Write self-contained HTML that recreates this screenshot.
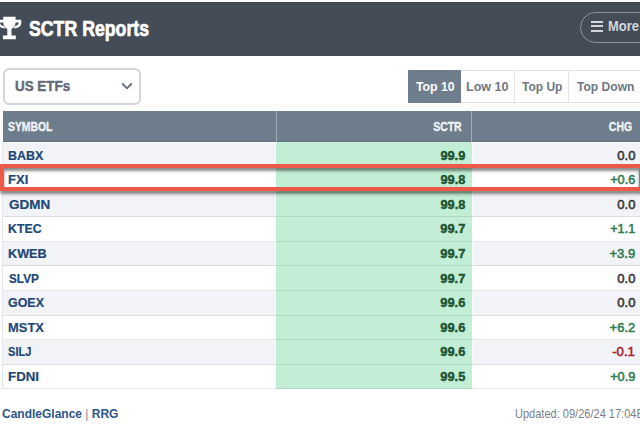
<!DOCTYPE html>
<html><head><meta charset="utf-8"><style>
*{margin:0;padding:0;box-sizing:border-box}
html,body{width:640px;height:426px;overflow:hidden;background:#fff;font-family:"Liberation Sans",sans-serif}
.abs,.tx,.b{position:absolute}
.tx{white-space:nowrap}
.row{position:absolute;left:3px;width:640px;} .ln{position:absolute;left:3px;width:640px;height:1px;background:rgba(40,50,70,.11)}
</style></head><body>
<div class="b" style="left:0;top:2px;width:640px;height:54px;background:#444c57;border-top:1px solid #3b424b"></div>
<svg class="abs" style="left:0;top:0" width="30" height="45">
<path fill="#fff" d="M3.2 16.8H15.6V22.5C15.6 25.8 13.6 28 11.5 29V35.6H15.8V39.2H2.9V35.6H7.3V29C5.2 28 3.2 25.8 3.2 22.5Z"/>
<path fill="#fff" d="M15 19.8H21.3V22.8C21.3 26 18.5 28.2 13.8 28.6L14.6 26.2C17 25.8 18.7 24.6 18.7 22.8V22.6H15Z"/>
<path fill="#fff" d="M3.8 19.8H-2.5V22.8C-2.5 26 0.3 28.2 5 28.6L4.2 26.2C1.8 25.8 0.1 24.6 0.1 22.8V22.6H3.8Z"/>
</svg>
<div class="tx" style="left:28.59px;transform-origin:0 0;top:18.00px;font-size:21.66px;line-height:21.66px;font-weight:700;color:#ffffff;-webkit-text-stroke:0.7px #ffffff;transform:scaleX(0.8178);">SCTR Reports</div>
<div class="b" style="left:579.5px;top:11.5px;width:90px;height:31px;border:1.4px solid #8c939b;border-radius:16px"></div>
<div class="b" style="left:591px;top:21.1px;width:11.7px;height:2px;background:#d3d7db"></div>
<div class="b" style="left:591px;top:25.3px;width:11.7px;height:2px;background:#d3d7db"></div>
<div class="b" style="left:591px;top:29.9px;width:11.7px;height:2px;background:#d3d7db"></div>
<div class="tx" style="left:607.61px;transform-origin:0 0;top:20.00px;font-size:13.95px;line-height:13.95px;font-weight:700;color:#d3d7db;transform:scaleX(0.9300);">More</div>

<div class="b" style="left:3px;top:67.5px;width:138px;height:37px;border:2px solid #d2d6da;border-radius:6px"></div>
<div class="tx" style="left:14.82px;transform-origin:0 0;top:79.00px;font-size:14.75px;line-height:14.75px;font-weight:700;color:#636c77;-webkit-text-stroke:0.45px #636c77;transform:scaleX(0.9087);">US ETFs</div>
<svg class="abs" style="left:121px;top:82px" width="12" height="8" viewBox="0 0 12 8"><path d="M1.2 1.5l4.8 4.8 4.8-4.8" fill="none" stroke="#636c77" stroke-width="1.8"/></svg>

<div class="b" style="left:408px;top:70px;width:53px;height:33px;background:#6e7e8c"></div>
<div class="b" style="left:461px;top:70px;width:200px;height:33px;border:1px solid #e2e5e8;border-left:none"></div>
<div class="b" style="left:514px;top:70px;width:1px;height:33px;background:#e2e5e8"></div>
<div class="b" style="left:568px;top:70px;width:1px;height:33px;background:#e2e5e8"></div>
<div class="tx" style="left:415.58px;transform-origin:0 0;top:80.00px;font-size:13.66px;line-height:13.66px;font-weight:700;color:#ffffff;transform:scaleX(0.9004);">Top 10</div>
<div class="tx" style="left:466.35px;transform-origin:0 0;top:80.00px;font-size:13.66px;line-height:13.66px;font-weight:700;color:#6f7780;transform:scaleX(0.9202);">Low 10</div>
<div class="tx" style="left:521.94px;transform-origin:0 0;top:80.00px;font-size:13.66px;line-height:13.66px;font-weight:700;color:#6f7780;transform:scaleX(0.8786);">Top Up</div>
<div class="tx" style="left:576.62px;transform-origin:0 0;top:80.00px;font-size:13.66px;line-height:13.66px;font-weight:700;color:#6f7780;transform:scaleX(0.8832);">Top Down</div>

<div class="b" style="left:3px;top:111px;width:640px;height:31px;background:#6e7d8b;border-bottom:1px solid #66747f"></div>
<div class="row" style="top:143px;height:25px;background:#f2f3f6"></div><div class="row" style="top:168px;height:25px;background:#ffffff"></div><div class="row" style="top:193px;height:24px;background:#f2f3f6"></div><div class="row" style="top:217px;height:25px;background:#ffffff"></div><div class="row" style="top:242px;height:24px;background:#f2f3f6"></div><div class="row" style="top:266px;height:25px;background:#ffffff"></div><div class="row" style="top:291px;height:25px;background:#f2f3f6"></div><div class="row" style="top:316px;height:24px;background:#ffffff"></div><div class="row" style="top:340px;height:25px;background:#f2f3f6"></div><div class="row" style="top:365px;height:24px;background:#ffffff"></div>
<div class="b" style="left:276px;top:142px;width:196px;height:247px;background:#c2eed5"></div>
<div class="b" style="left:275px;top:142px;width:1px;height:247px;background:#fff"></div>
<div class="b" style="left:472px;top:142px;width:1px;height:247px;background:#fff"></div>
<div class="b" style="left:276px;top:111px;width:1px;height:31px;background:#9eabb6"></div>
<div class="b" style="left:471px;top:111px;width:1px;height:31px;background:#9eabb6"></div>
<div class="ln" style="top:167px"></div><div class="ln" style="top:192px"></div><div class="ln" style="top:216px"></div><div class="ln" style="top:241px"></div><div class="ln" style="top:265px"></div><div class="ln" style="top:290px"></div><div class="ln" style="top:315px"></div><div class="ln" style="top:339px"></div><div class="ln" style="top:364px"></div><div class="ln" style="top:388px"></div>
<div class="b" style="left:2px;top:142px;width:1px;height:247px;background:#e4e6e9"></div>
<div class="tx" style="left:7.70px;transform-origin:0 0;top:120.00px;font-size:13.08px;line-height:13.08px;font-weight:700;color:#f0f2f4;-webkit-text-stroke:0.4px #f0f2f4;transform:scaleX(0.7933);">SYMBOL</div>
<div class="tx" style="right:178.20px;transform-origin:100% 0;top:120.00px;font-size:13.08px;line-height:13.08px;font-weight:700;color:#f0f2f4;-webkit-text-stroke:0.4px #f0f2f4;transform:scaleX(0.7984);">SCTR</div>
<div class="tx" style="right:8.07px;transform-origin:100% 0;top:120.00px;font-size:13.08px;line-height:13.08px;font-weight:700;color:#f0f2f4;-webkit-text-stroke:0.4px #f0f2f4;transform:scaleX(0.7980);">CHG</div>
<div class="tx" style="left:8.00px;transform-origin:0 0;top:148.50px;font-size:13.37px;line-height:13.37px;font-weight:700;color:#1e4775;-webkit-text-stroke:0.2px #1e4775;transform:scaleX(0.9292);">BABX</div><div class="tx" style="right:174.49px;transform-origin:100% 0;top:148.50px;font-size:13.01px;line-height:13.01px;font-weight:700;color:#1c5433;-webkit-text-stroke:0.45px #1c5433;transform:scaleX(0.9850);">99.9</div><div class="tx" style="right:4.75px;transform-origin:100% 0;top:148.50px;font-size:13.30px;line-height:13.30px;font-weight:400;color:#333333;-webkit-text-stroke:0.55px #333333;transform:scaleX(0.9818);">0.0</div><div class="tx" style="left:8.48px;transform-origin:0 0;top:172.50px;font-size:13.37px;line-height:13.37px;font-weight:700;color:#1e4775;-webkit-text-stroke:0.2px #1e4775;transform:scaleX(0.9746);">FXI</div><div class="tx" style="right:175.13px;transform-origin:100% 0;top:172.50px;font-size:13.01px;line-height:13.01px;font-weight:700;color:#1c5433;-webkit-text-stroke:0.45px #1c5433;transform:scaleX(0.9839);">99.8</div><div class="tx" style="right:4.95px;transform-origin:100% 0;top:172.50px;font-size:13.30px;line-height:13.30px;font-weight:400;color:#2e7b50;-webkit-text-stroke:0.55px #2e7b50;transform:scaleX(0.9554);">+0.6</div><div class="tx" style="left:8.59px;transform-origin:0 0;top:197.50px;font-size:13.37px;line-height:13.37px;font-weight:700;color:#1e4775;-webkit-text-stroke:0.2px #1e4775;transform:scaleX(1.0068);">GDMN</div><div class="tx" style="right:175.13px;transform-origin:100% 0;top:197.50px;font-size:13.01px;line-height:13.01px;font-weight:700;color:#1c5433;-webkit-text-stroke:0.45px #1c5433;transform:scaleX(0.9839);">99.8</div><div class="tx" style="right:4.75px;transform-origin:100% 0;top:197.50px;font-size:13.30px;line-height:13.30px;font-weight:400;color:#333333;-webkit-text-stroke:0.55px #333333;transform:scaleX(0.9818);">0.0</div><div class="tx" style="left:8.12px;transform-origin:0 0;top:221.50px;font-size:13.37px;line-height:13.37px;font-weight:700;color:#1e4775;-webkit-text-stroke:0.2px #1e4775;transform:scaleX(0.9219);">KTEC</div><div class="tx" style="right:174.60px;transform-origin:100% 0;top:221.50px;font-size:13.01px;line-height:13.01px;font-weight:700;color:#1c5433;-webkit-text-stroke:0.45px #1c5433;transform:scaleX(0.9866);">99.7</div><div class="tx" style="right:5.03px;transform-origin:100% 0;top:221.50px;font-size:13.30px;line-height:13.30px;font-weight:400;color:#2e7b50;-webkit-text-stroke:0.55px #2e7b50;transform:scaleX(0.9535);">+1.1</div><div class="tx" style="left:7.95px;transform-origin:0 0;top:246.50px;font-size:13.37px;line-height:13.37px;font-weight:700;color:#1e4775;-webkit-text-stroke:0.2px #1e4775;transform:scaleX(0.9472);">KWEB</div><div class="tx" style="right:174.60px;transform-origin:100% 0;top:246.50px;font-size:13.01px;line-height:13.01px;font-weight:700;color:#1c5433;-webkit-text-stroke:0.45px #1c5433;transform:scaleX(0.9866);">99.7</div><div class="tx" style="right:4.52px;transform-origin:100% 0;top:246.50px;font-size:13.30px;line-height:13.30px;font-weight:400;color:#2e7b50;-webkit-text-stroke:0.55px #2e7b50;transform:scaleX(0.9819);">+3.9</div><div class="tx" style="left:8.60px;transform-origin:0 0;top:271.50px;font-size:13.37px;line-height:13.37px;font-weight:700;color:#1e4775;-webkit-text-stroke:0.2px #1e4775;transform:scaleX(0.8822);">SLVP</div><div class="tx" style="right:174.60px;transform-origin:100% 0;top:271.50px;font-size:13.01px;line-height:13.01px;font-weight:700;color:#1c5433;-webkit-text-stroke:0.45px #1c5433;transform:scaleX(0.9866);">99.7</div><div class="tx" style="right:4.75px;transform-origin:100% 0;top:271.50px;font-size:13.30px;line-height:13.30px;font-weight:400;color:#333333;-webkit-text-stroke:0.55px #333333;transform:scaleX(0.9818);">0.0</div><div class="tx" style="left:8.08px;transform-origin:0 0;top:295.50px;font-size:13.37px;line-height:13.37px;font-weight:700;color:#1e4775;-webkit-text-stroke:0.2px #1e4775;transform:scaleX(0.9307);">GOEX</div><div class="tx" style="right:174.36px;transform-origin:100% 0;top:295.50px;font-size:13.01px;line-height:13.01px;font-weight:700;color:#1c5433;-webkit-text-stroke:0.45px #1c5433;transform:scaleX(0.9904);">99.6</div><div class="tx" style="right:4.75px;transform-origin:100% 0;top:295.50px;font-size:13.30px;line-height:13.30px;font-weight:400;color:#333333;-webkit-text-stroke:0.55px #333333;transform:scaleX(0.9818);">0.0</div><div class="tx" style="left:8.49px;transform-origin:0 0;top:320.50px;font-size:13.37px;line-height:13.37px;font-weight:700;color:#1e4775;-webkit-text-stroke:0.2px #1e4775;transform:scaleX(0.9670);">MSTX</div><div class="tx" style="right:174.36px;transform-origin:100% 0;top:320.50px;font-size:13.01px;line-height:13.01px;font-weight:700;color:#1c5433;-webkit-text-stroke:0.45px #1c5433;transform:scaleX(0.9904);">99.6</div><div class="tx" style="right:5.11px;transform-origin:100% 0;top:320.50px;font-size:13.30px;line-height:13.30px;font-weight:400;color:#2e7b50;-webkit-text-stroke:0.55px #2e7b50;transform:scaleX(0.9778);">+6.2</div><div class="tx" style="left:8.17px;transform-origin:0 0;top:344.50px;font-size:13.37px;line-height:13.37px;font-weight:700;color:#1e4775;-webkit-text-stroke:0.2px #1e4775;transform:scaleX(0.8280);">SILJ</div><div class="tx" style="right:174.36px;transform-origin:100% 0;top:344.50px;font-size:13.01px;line-height:13.01px;font-weight:700;color:#1c5433;-webkit-text-stroke:0.45px #1c5433;transform:scaleX(0.9904);">99.6</div><div class="tx" style="right:4.91px;transform-origin:100% 0;top:344.50px;font-size:13.30px;line-height:13.30px;font-weight:400;color:#a8202e;-webkit-text-stroke:0.55px #a8202e;transform:scaleX(0.9899);">-0.1</div><div class="tx" style="left:8.38px;transform-origin:0 0;top:369.50px;font-size:13.37px;line-height:13.37px;font-weight:700;color:#1e4775;-webkit-text-stroke:0.2px #1e4775;transform:scaleX(0.9962);">FDNI</div><div class="tx" style="right:174.45px;transform-origin:100% 0;top:369.50px;font-size:13.01px;line-height:13.01px;font-weight:700;color:#1c5433;-webkit-text-stroke:0.45px #1c5433;transform:scaleX(0.9853);">99.5</div><div class="tx" style="right:5.20px;transform-origin:100% 0;top:369.50px;font-size:13.30px;line-height:13.30px;font-weight:400;color:#2e7b50;-webkit-text-stroke:0.55px #2e7b50;transform:scaleX(0.9567);">+0.9</div>
<div class="b" style="left:-0.5px;top:163.8px;width:643px;height:26.8px;border:4px solid #ec594b;box-shadow:0 3px 3px rgba(0,0,0,.45), inset 0 3px 3px rgba(0,0,0,.45)"></div>
<div class="tx" style="left:1.97px;transform-origin:0 0;top:407.00px;font-size:13.37px;line-height:13.37px;font-weight:700;color:#2e5689;transform:scaleX(0.8976);">CandleGlance <span style="color:#8a8f96;font-weight:400;-webkit-text-stroke:0">|</span> RRG</div>
<div class="tx" style="left:515.07px;transform-origin:0 0;top:408.00px;font-size:12.94px;line-height:12.94px;font-weight:400;color:#7b8088;transform:scaleX(0.8526);">Updated: 09/26/24 17:04ET</div>
</body></html>
